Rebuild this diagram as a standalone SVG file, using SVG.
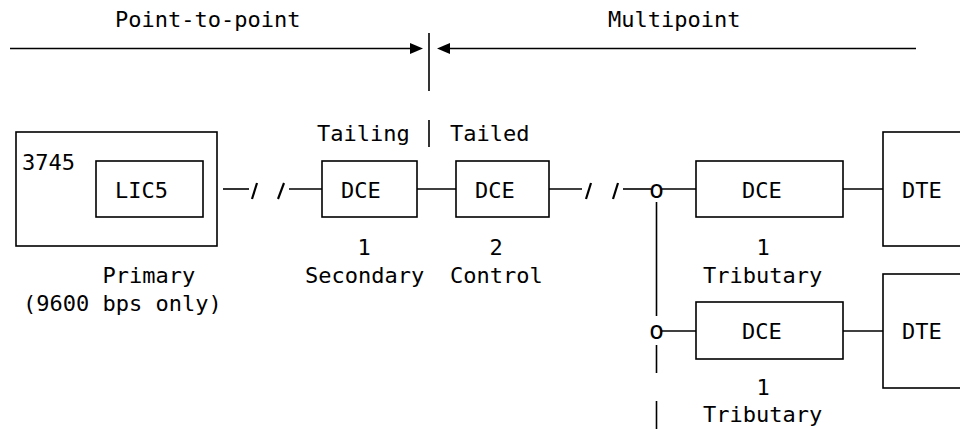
<svg xmlns="http://www.w3.org/2000/svg" width="960" height="429" viewBox="0 0 960 429">
<style>
  text { font-family: "DejaVu Sans Mono", "Liberation Mono", monospace; font-size: 22px; fill: #000; }
  .mid { text-anchor: middle; }
  .tap { font-size: 25px; }
  .box { fill: none; stroke: #000; stroke-width: 1.6; }
  .ln { fill: none; stroke: #000; stroke-width: 1.6; }
  .sl { fill: none; stroke: #000; stroke-width: 2.2; }
  .ah { fill: #000; stroke: none; }
</style>
<rect width="960" height="429" fill="#fff"/>

<g id="header">
  <text x="115" y="27">Point-to-point</text>
  <text x="608" y="27">Multipoint</text>
  <line class="ln" x1="10" y1="48.5" x2="412" y2="48.5"/>
  <polygon class="ah" points="410,43 423,48.5 410,54"/>
  <line class="ln" x1="429" y1="33" x2="429" y2="91"/>
  <polygon class="ah" points="437,48.5 450,43 450,54"/>
  <line class="ln" x1="448" y1="48.5" x2="916" y2="48.5"/>
</g>

<g id="tailing-label">
  <text x="317" y="141">Tailing</text>
  <line class="ln" x1="429" y1="120" x2="429" y2="147"/>
  <text x="450" y="141">Tailed</text>
</g>

<g id="node-3745">
  <rect class="box" x="16" y="132" width="201" height="114"/>
  <text x="22" y="170">3745</text>
  <text x="102.5" y="283">Primary</text>
  <text x="23" y="311">(9600 bps only)</text>
</g>

<g id="node-lic5">
  <rect class="box" x="96" y="161" width="107" height="56"/>
  <text x="115" y="198">LIC5</text>
</g>

<g id="node-dce1">
  <rect class="box" x="322" y="161" width="95" height="56"/>
  <text x="341" y="198">DCE</text>
  <text class="mid" x="364" y="255">1</text>
  <text x="305" y="283">Secondary</text>
</g>

<g id="node-dce2">
  <rect class="box" x="456" y="161" width="93" height="56"/>
  <text x="475" y="198">DCE</text>
  <text class="mid" x="496" y="255">2</text>
  <text x="450" y="283">Control</text>
</g>

<g id="node-dce3">
  <rect class="box" x="696" y="161" width="147" height="56"/>
  <text x="742" y="198">DCE</text>
  <text class="mid" x="763" y="255">1</text>
  <text x="703" y="283">Tributary</text>
</g>

<g id="node-dte1">
  <rect class="box" x="883" y="132" width="100" height="114"/>
  <text x="902" y="198">DTE</text>
</g>

<g id="node-dce4">
  <rect class="box" x="696" y="302" width="147" height="57"/>
  <text x="742" y="339">DCE</text>
  <text class="mid" x="763" y="395">1</text>
  <text x="703" y="422">Tributary</text>
</g>

<g id="node-dte2">
  <rect class="box" x="883" y="274" width="100" height="114"/>
  <text x="902" y="339">DTE</text>
</g>

<g id="tap1">
  <text class="mid tap" x="656.5" y="198">o</text>
</g>
<g id="tap2">
  <text class="mid tap" x="656.5" y="339">o</text>
</g>

<g id="connectors">
  <line class="ln" x1="223" y1="189" x2="249" y2="189"/>
  <line class="sl" x1="252" y1="199" x2="257" y2="183"/>
  <line class="sl" x1="278" y1="199" x2="284" y2="183"/>
  <line class="ln" x1="289" y1="189" x2="322" y2="189"/>

  <line class="ln" x1="417" y1="189" x2="456" y2="189"/>

  <line class="ln" x1="549" y1="189" x2="582" y2="189"/>
  <line class="sl" x1="586" y1="199" x2="591" y2="183"/>
  <line class="sl" x1="613" y1="199" x2="618" y2="183"/>
  <line class="ln" x1="623" y1="189" x2="651" y2="189"/>

  <line class="ln" x1="662" y1="189" x2="696" y2="189"/>
  <line class="ln" x1="843" y1="189" x2="883" y2="189"/>

  <line class="ln" x1="656.5" y1="202" x2="656.5" y2="316"/>
  <line class="ln" x1="662" y1="331" x2="696" y2="331"/>
  <line class="ln" x1="843" y1="331" x2="883" y2="331"/>
  <line class="ln" x1="656.5" y1="345" x2="656.5" y2="373"/>
  <line class="ln" x1="656.5" y1="401" x2="656.5" y2="429"/>
</g>
</svg>
